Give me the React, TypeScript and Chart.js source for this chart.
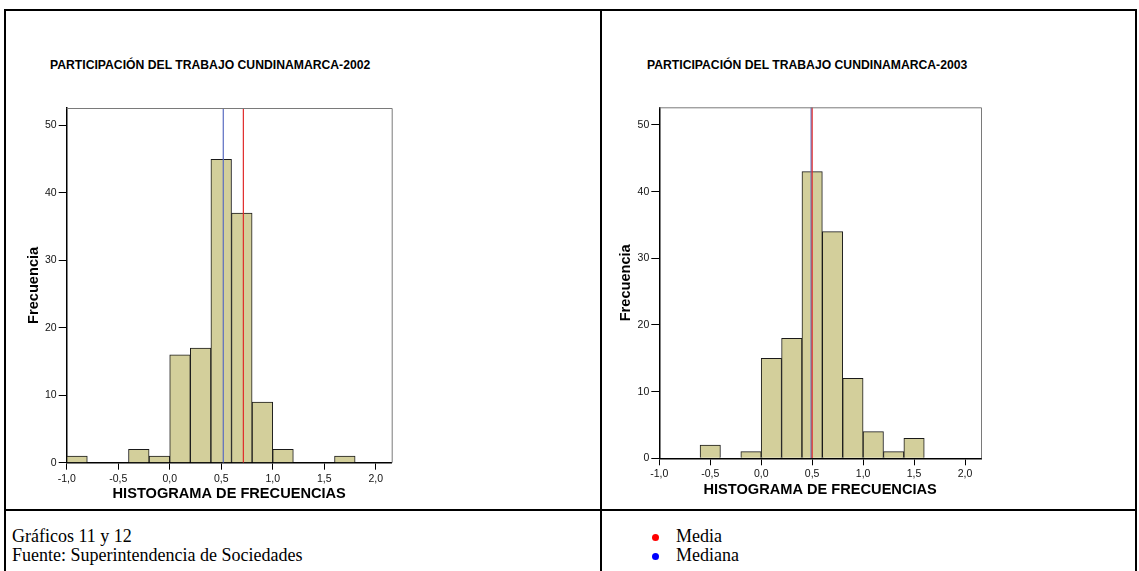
import React, { useEffect, useRef } from "react";
import { Chart, registerables } from "chart.js";

Chart.register(...registerables);

// ---------- data ----------
const binStarts = [-1.0, -0.8, -0.6, -0.4, -0.2, 0.0, 0.2, 0.4, 0.6, 0.8, 1.0, 1.2, 1.4, 1.6, 1.8];
const binWidth = 0.2;
const counts2002 = [1, 0, 0, 2, 1, 16, 17, 45, 37, 9, 2, 0, 0, 1, 0];
const counts2003 = [0, 0, 2, 0, 1, 15, 18, 43, 34, 12, 4, 1, 3, 0, 0];
const mean2002 = 0.715;
const median2002 = 0.52;
const mean2003 = 0.5;
const median2003 = 0.49;
const xTicks = [-1.0, -0.5, 0.0, 0.5, 1.0, 1.5, 2.0];
const yTicks = [0, 10, 20, 30, 40, 50];
const title2002 = "PARTICIPACIÓN DEL TRABAJO CUNDINAMARCA-2002";
const title2003 = "PARTICIPACIÓN DEL TRABAJO CUNDINAMARCA-2003";
const xAxisTitle = "HISTOGRAMA DE FRECUENCIAS";
const yAxisTitle = "Frecuencia";
const captionLines = ["Gráficos 11 y 12", "Fuente: Superintendencia de Sociedades"];
const legendItems = [
  { label: "Media", color: "#ff0000" },
  { label: "Mediana", color: "#0000ff" },
];

const SANS = '"Liberation Sans", Arial, sans-serif';
const SERIF = '"Liberation Serif", "Times New Roman", serif';
const BAR_FILL = "#d3cf9b";
const MEAN_COLOR = "#e02a2a";
const MEDIAN_COLOR = "#5a6cc0";

type Geo = {
  left: number;
  top: number;
  width: number;
  height: number;
  padTop: number;
  padRight: number;
  yAxisWidth: number;
  xAxisHeight: number;
  xMin: number;
  xMax: number;
  yMax: number;
  yTitlePad: number;
};

const framePlugin = {
  id: "frameTopRight",
  afterDatasetsDraw(chart: any) {
    const { ctx, chartArea } = chart;
    ctx.save();
    ctx.strokeStyle = "#7a7a7a";
    ctx.lineWidth = 1;
    ctx.beginPath();
    ctx.moveTo(chartArea.left, chartArea.top + 0.5);
    ctx.lineTo(chartArea.right + 0.5, chartArea.top + 0.5);
    ctx.lineTo(chartArea.right + 0.5, chartArea.bottom);
    ctx.stroke();
    ctx.restore();
  },
};

function fmt(v: number) {
  return v.toFixed(1).replace(".", ",");
}

function Histogram({ counts, mean, median, geo }: { counts: number[]; mean: number; median: number; geo: Geo }) {
  const ref = useRef<HTMLCanvasElement | null>(null);
  useEffect(() => {
    if (!ref.current) return;
    const barData = binStarts.map((s, i) => ({ x: s + binWidth / 2, y: counts[i] }));
    const chart = new Chart(ref.current, {
      type: "bar",
      data: {
        datasets: [
          {
            type: "line" as any,
            label: "Media",
            data: [
              { x: mean, y: 0 },
              { x: mean, y: geo.yMax },
            ],
            borderColor: MEAN_COLOR,
            borderWidth: 1.2,
            pointRadius: 0,
            order: 0,
          } as any,
          {
            type: "line" as any,
            label: "Mediana",
            data: [
              { x: median, y: 0 },
              { x: median, y: geo.yMax },
            ],
            borderColor: MEDIAN_COLOR,
            borderWidth: 1.2,
            pointRadius: 0,
            order: 1,
          } as any,
          {
            type: "bar",
            label: "Frecuencia",
            data: barData as any,
            backgroundColor: BAR_FILL,
            borderColor: "#1a1a1a",
            borderWidth: 1,
            barPercentage: 1,
            categoryPercentage: 1,
            order: 2,
          } as any,
        ],
      },
      options: {
        responsive: false,
        animation: false,
        devicePixelRatio: 1,
        layout: { padding: { top: geo.padTop, right: geo.padRight, left: 0, bottom: 0 } },
        plugins: { legend: { display: false }, tooltip: { enabled: false }, title: { display: false } },
        scales: {
          x: {
            type: "linear",
            min: geo.xMin,
            max: geo.xMax,
            offset: false,
            afterBuildTicks: (axis: any) => {
              axis.ticks = xTicks.map((v) => ({ value: v }));
            },
            afterFit: (axis: any) => {
              axis.height = geo.xAxisHeight;
            },
            ticks: {
              callback: (v: any) => fmt(Number(v)),
              color: "#111",
              font: { family: SANS, size: 10.5 },
              padding: 3,
              maxRotation: 0,
              autoSkip: false,
            },
            grid: { display: true, drawOnChartArea: false, drawTicks: true, tickLength: 7, color: "#000", offset: false },
            border: { display: true, color: "#000", width: 1.5 },
            title: {
              display: true,
              text: xAxisTitle,
              color: "#000",
              font: { family: SANS, size: 14.6, weight: "bold" },
              padding: { top: 0, bottom: 5.3 },
            },
          },
          y: {
            type: "linear",
            min: 0,
            max: geo.yMax,
            afterBuildTicks: (axis: any) => {
              axis.ticks = yTicks.map((v) => ({ value: v }));
            },
            afterFit: (axis: any) => {
              axis.width = geo.yAxisWidth;
            },
            ticks: {
              color: "#111",
              font: { family: SANS, size: 10.5 },
              padding: 2,
            },
            grid: { display: true, drawOnChartArea: false, drawTicks: true, tickLength: 8, color: "#000" },
            border: { display: true, color: "#000", width: 1.5 },
            title: {
              display: true,
              text: yAxisTitle,
              color: "#000",
              font: { family: SANS, size: 14.6, weight: "bold" },
              padding: { top: geo.yTitlePad, bottom: 0 },
            },
          },
        },
      },
      plugins: [framePlugin],
    } as any);
    return () => chart.destroy();
  }, [counts, mean, median, geo]);
  return (
    <canvas
      ref={ref}
      width={geo.width}
      height={geo.height}
      style={{ position: "absolute", left: geo.left, top: geo.top, width: geo.width, height: geo.height }}
    />
  );
}

const geoLeft: Geo = {
  left: 20,
  top: 98,
  width: 374,
  height: 410,
  padTop: 10,
  padRight: 2.3,
  yAxisWidth: 46.7,
  xAxisHeight: 45.3,
  xMin: -1.0,
  xMax: 2.155,
  yMax: 52.6,
  yTitlePad: 5,
};

const geoRight: Geo = {
  left: 612,
  top: 97,
  width: 372,
  height: 407,
  padTop: 10.3,
  padRight: 3,
  yAxisWidth: 47.3,
  xAxisHeight: 45.7,
  xMin: -1.0,
  xMax: 2.157,
  yMax: 52.65,
  yTitlePad: 5.3,
};

function Line({ l, t, w, h }: { l: number; t: number; w: number; h: number }) {
  return <div style={{ position: "absolute", left: l, top: t, width: w, height: h, background: "#000" }} />;
}

export default function App() {
  const titleStyle: React.CSSProperties = {
    position: "absolute",
    top: 58,
    fontFamily: SANS,
    fontWeight: "bold",
    fontSize: 12.2,
    lineHeight: "14px",
    whiteSpace: "nowrap",
    color: "#000",
  };
  return (
    <div
      style={{
        position: "fixed",
        left: 0,
        top: 0,
        width: 1139,
        height: 571,
        background: "#fff",
        overflow: "hidden",
      }}
    >
      {/* table borders */}
      <Line l={4} t={9} w={1133} h={2} />
      <Line l={4} t={9} w={2} h={570} />
      <Line l={600} t={9} w={2} h={570} />
      <Line l={1135} t={9} w={2} h={570} />
      <Line l={4} t={509} w={1133} h={2} />

      <div style={{ ...titleStyle, left: 50 }}>{title2002}</div>
      <div style={{ ...titleStyle, left: 647 }}>{title2003}</div>

      <Histogram counts={counts2002} mean={mean2002} median={median2002} geo={geoLeft} />
      <Histogram counts={counts2003} mean={mean2003} median={median2003} geo={geoRight} />

      {captionLines.map((txt, i) => (
        <div
          key={txt}
          style={{
            position: "absolute",
            left: 12,
            top: 527 + i * 19,
            fontFamily: SERIF,
            fontSize: 18,
            lineHeight: "19px",
            whiteSpace: "nowrap",
            color: "#000",
          }}
        >
          {txt}
        </div>
      ))}

      {legendItems.map((it, i) => (
        <React.Fragment key={it.label}>
          <div
            style={{
              position: "absolute",
              left: 652,
              top: 534 + i * 19,
              width: 7,
              height: 7,
              borderRadius: "50%",
              background: it.color,
            }}
          />
          <div
            style={{
              position: "absolute",
              left: 676,
              top: 527 + i * 19,
              fontFamily: SERIF,
              fontSize: 18,
              lineHeight: "19px",
              whiteSpace: "nowrap",
              color: "#000",
            }}
          >
            {it.label}
          </div>
        </React.Fragment>
      ))}
    </div>
  );
}
